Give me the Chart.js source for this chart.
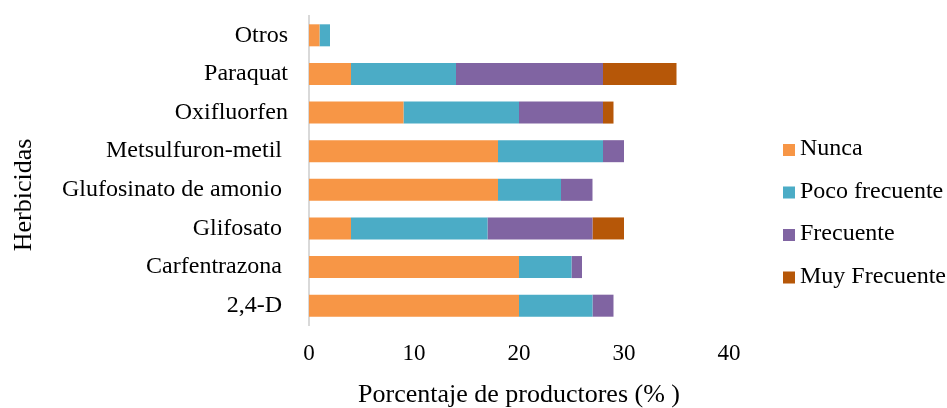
<!DOCTYPE html>
<html lang="es">
<head>
<meta charset="utf-8">
<title>Herbicidas</title>
<script src="https://cdn.jsdelivr.net/npm/chart.js@4.4.0/dist/chart.umd.min.js"></script>
<style>
  html, body { margin: 0; padding: 0; background: #fff; }
  #contenedor { width: 947px; height: 408px; }
</style>
</head>
<body>
<div id="contenedor"><canvas id="grafico"></canvas></div>
<script>
const herbicidas = ["Otros", "Paraquat", "Oxifluorfen", "Metsulfuron-metil ", "Glufosinato de amonio ", "Glifosato ", "Carfentrazona ", "2,4-D "];
const nunca = [1, 4, 9, 18, 18, 4, 20, 20];
const pocoFrecuente = [1, 10, 11, 10, 6, 13, 5, 7];
const frecuente = [0, 14, 8, 2, 3, 10, 1, 2];
const muyFrecuente = [0, 7, 1, 0, 0, 3, 0, 0];
const ticksX = [0, 10, 20, 30, 40];

const fuente = "'Liberation Serif', 'Times New Roman', serif";
Chart.defaults.font.family = fuente;
Chart.defaults.color = "#000";

// leyenda a la derecha y titulo vertical "Herbicidas"
const extras = {
  id: "extras",
  afterDraw(chart) {
    const { ctx, chartArea } = chart;
    ctx.save();
    ctx.font = "24px " + fuente;
    ctx.textBaseline = "middle";
    ctx.textAlign = "left";
    chart.data.datasets.forEach((ds, i) => {
      const y = 150 + i * 42.5;
      ctx.fillStyle = ds.backgroundColor;
      ctx.fillRect(chartArea.right + 54, y - 6, 12, 12);
      ctx.fillStyle = "#000";
      ctx.fillText(ds.label, chartArea.right + 71, y - 1);
    });

    ctx.translate(24, 195);
    ctx.rotate(-Math.PI / 2);
    ctx.font = "26px " + fuente;
    ctx.textAlign = "center";
    ctx.fillText("Herbicidas", 0, 0);
    ctx.restore();
  }
};

new Chart(document.getElementById("grafico"), {
  type: "bar",
  data: {
    labels: herbicidas,
    datasets: [
      { label: "Nunca", data: nunca, backgroundColor: "#F79646" },
      { label: "Poco frecuente", data: pocoFrecuente, backgroundColor: "#4BACC6" },
      { label: "Frecuente", data: frecuente, backgroundColor: "#8064A2" },
      { label: "Muy Frecuente", data: muyFrecuente, backgroundColor: "#B65708" }
    ]
  },
  options: {
    indexAxis: "y",
    responsive: true,
    maintainAspectRatio: false,
    animation: false,
    layout: { padding: { top: 16, right: 218, left: 0, bottom: 0 } },
    datasets: {
      bar: { categoryPercentage: 1, barPercentage: 0.57, borderWidth: 0 }
    },
    plugins: {
      legend: { display: false },
      tooltip: { enabled: false }
    },
    scales: {
      x: {
        stacked: true,
        min: ticksX[0],
        max: ticksX[ticksX.length - 1],
        ticks: { stepSize: 10, padding: 17, font: { size: 23, lineHeight: 1 } },
        grid: { display: false, drawTicks: false },
        border: { display: false },
        title: {
          display: true,
          text: "Porcentaje de productores (% )",
          font: { size: 26, lineHeight: 1 },
          padding: { top: 0, bottom: 0 }
        }
      },
      y: {
        stacked: true,
        ticks: { padding: 21, font: { size: 24 } },
        grid: { display: false, drawTicks: false },
        border: { display: true, color: "#D9D9D9", width: 2 },
        afterFit(scale) {
          scale.width = 309;
          scale.paddingTop = 0;
          scale.paddingBottom = 0;
        }
      }
    }
  },
  plugins: [extras]
});
</script>
</body>
</html>
